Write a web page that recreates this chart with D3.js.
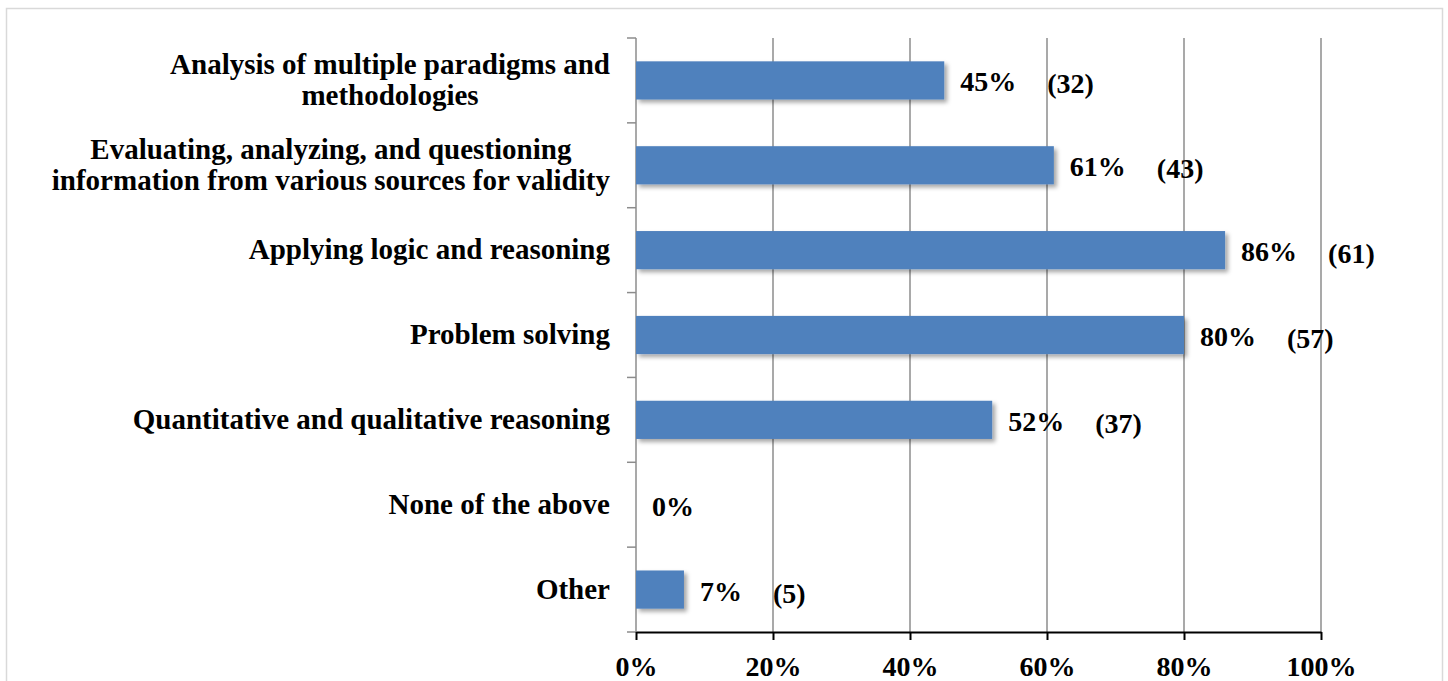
<!DOCTYPE html>
<html>
<head>
<meta charset="utf-8">
<script src="https://cdn.jsdelivr.net/npm/d3@7"></script>
<style>
  html, body { margin: 0; padding: 0; background: #fff; }
  svg { display: block; }
  text { font-family: "Liberation Serif", "Times New Roman", serif; font-weight: bold; fill: #000; }
</style>
</head>
<body>
<div id="chart"></div>
<script>
// data
const categories = [
  ["Analysis of multiple paradigms and", "methodologies"],
  ["Evaluating, analyzing, and questioning", "information from various sources for validity"],
  ["Applying logic and reasoning"],
  ["Problem solving"],
  ["Quantitative and qualitative reasoning"],
  ["None of the above"],
  ["Other"]
];
const percents = [0.45, 0.61, 0.86, 0.80, 0.52, 0.00, 0.07];
const counts = [32, 43, 61, 57, 37, null, 5];
const xTicks = [0, 0.2, 0.4, 0.6, 0.8, 1.0];

const width = 1448, height = 681;
const margin = { top: 38, right: 127, bottom: 49, left: 636 };

const svg = d3.select("#chart").append("svg")
  .attr("width", width)
  .attr("height", height);

// drop shadow like the office bars
const defs = svg.append("defs");
defs.append("filter").attr("id", "shadow")
  .attr("x", "-10%").attr("y", "-20%").attr("width", "130%").attr("height", "160%")
  .append("feDropShadow")
  .attr("dx", 3).attr("dy", 3).attr("stdDeviation", 2)
  .attr("flood-color", "#000").attr("flood-opacity", 0.35);

// outer frame
svg.append("rect")
  .attr("x", 6.5).attr("y", 8.5)
  .attr("width", 1436).attr("height", 700)
  .attr("fill", "none").attr("stroke", "#d9d9d9").attr("stroke-width", 1.5);

const x = d3.scaleLinear()
  .domain([0, 1])
  .range([margin.left, width - margin.right]);

const y = d3.scaleBand()
  .domain(d3.range(categories.length))
  .range([margin.top, height - margin.bottom])
  .paddingInner(0.55)
  .paddingOuter(0.275);

const y0 = margin.top, y1 = height - margin.bottom;

// gridlines
svg.append("g").selectAll("line")
  .data(xTicks.slice(1))
  .enter().append("line")
  .attr("x1", d => x(d)).attr("x2", d => x(d))
  .attr("y1", y0).attr("y2", y1)
  .attr("stroke", "#8c8c8c").attr("stroke-width", 1.5);

// left axis (gray) with ticks between categories
const left = svg.append("g");
left.append("line")
  .attr("x1", x(0)).attr("x2", x(0))
  .attr("y1", y0).attr("y2", y1)
  .attr("stroke", "#8c8c8c").attr("stroke-width", 1.5);
left.selectAll(".tk")
  .data(d3.range(categories.length + 1))
  .enter().append("line")
  .attr("x1", x(0) - 9).attr("x2", x(0))
  .attr("y1", i => y0 + i * y.step()).attr("y2", i => y0 + i * y.step())
  .attr("stroke", "#8c8c8c").attr("stroke-width", 1.5);

// bars
svg.append("g").selectAll("rect")
  .data(percents)
  .enter().append("rect")
  .attr("x", x(0))
  .attr("y", (d, i) => y(i))
  .attr("width", d => x(d) - x(0))
  .attr("height", y.bandwidth())
  .attr("fill", "#4f81bd")
  .attr("filter", d => d > 0 ? "url(#shadow)" : null);

// bottom axis
const xAxis = d3.axisBottom(x)
  .tickValues(xTicks)
  .tickFormat(d3.format(".0%"))
  .tickSize(8)
  .tickSizeOuter(0)
  .tickPadding(16);

const gx = svg.append("g")
  .attr("transform", `translate(0,${y1})`)
  .call(xAxis);
gx.select(".domain").attr("stroke", "#000").attr("stroke-width", 2);
gx.selectAll(".tick line").attr("stroke", "#000").attr("stroke-width", 2);
gx.selectAll(".tick text")
  .attr("font-size", "28px")
  .attr("font-family", null)
  .attr("fill", "#000");

// category labels: lines centered inside a right-aligned block
const labelRight = x(0) - 26;
const lineH = 31;
const catG = svg.append("g");
categories.forEach((lines, i) => {
  const cy = y(i) + y.bandwidth() / 2;
  const t = catG.append("text").attr("font-size", "29px").attr("text-anchor", "middle");
  const spans = lines.map((ln, k) => t.append("tspan")
    .attr("y", cy + 9 + (k - (lines.length - 1) / 2) * lineH)
    .text(ln));
  const w = d3.max(spans, s => s.node().getComputedTextLength());
  spans.forEach(s => s.attr("x", labelRight - w / 2));
});

// value labels
const valG = svg.append("g");
percents.forEach((p, i) => {
  const cy = y(i) + y.bandwidth() / 2;
  const pt = valG.append("text")
    .attr("font-size", "28px")
    .attr("x", x(p) + 16)
    .attr("y", cy + 11)
    .text(d3.format(".0%")(p));
  if (counts[i] != null) {
    const w = pt.node().getComputedTextLength();
    valG.append("text")
      .attr("font-size", "28px")
      .attr("x", x(p) + 16 + w + 31)
      .attr("y", cy + 13)
      .text(`(${counts[i]})`);
  }
});
</script>
</body>
</html>
